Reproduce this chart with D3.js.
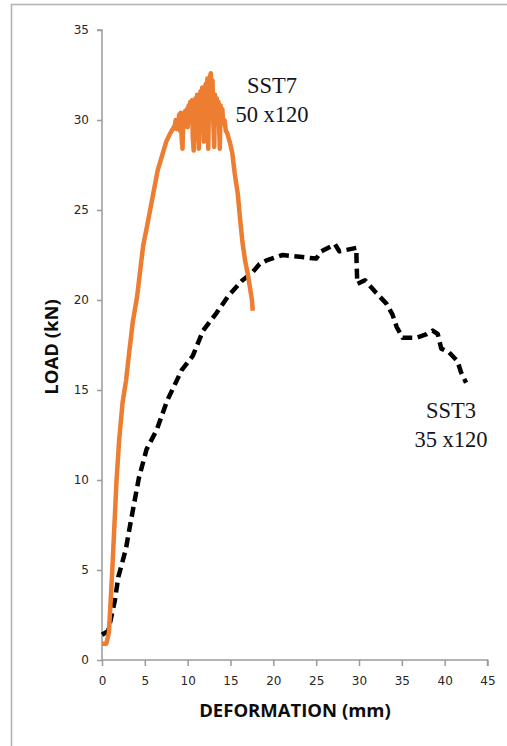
<!DOCTYPE html>
<html>
<head>
<meta charset="utf-8">
<script src="https://cdn.jsdelivr.net/npm/d3@7"></script>
<style>
  html, body { margin: 0; padding: 0; background: #fff; }
  svg { display: block; }
</style>
</head>
<body>
<svg id="chart" width="507" height="746"></svg>
<script>
// Load–deformation curves of two specimens
const xTicks = [0, 5, 10, 15, 20, 25, 30, 35, 40, 45];
const yTicks = [0, 5, 10, 15, 20, 25, 30, 35];

// SST7 (50 x120): deformation (mm) and load (kN)
const sst7Deformation = [0, 0.5, 0.8, 1.0, 1.2, 1.45, 1.7, 2.0, 2.4, 2.8, 3.2, 3.6, 4.1, 4.5, 4.8, 5.3, 5.7, 6.1, 6.5, 7.0, 7.5, 7.9, 8.5,
  8.6, 8.7, 8.8, 8.9, 9.0, 9.1, 9.2, 9.3, 9.4, 9.5, 9.6, 9.7, 9.8, 9.9, 10.0, 10.1, 10.2, 10.3, 10.4, 10.5, 10.6, 10.7, 10.8, 10.9,
  11.0, 11.1, 11.2, 11.3, 11.4, 11.5, 11.6, 11.7, 11.8, 11.9, 12.0, 12.1, 12.2, 12.3, 12.4, 12.5, 12.6, 12.7, 12.8, 12.9,
  13.0, 13.1, 13.2, 13.3, 13.4, 13.5, 13.6, 13.7, 13.75, 13.85, 13.95, 14.05, 14.15, 14.3, 14.45,
  14.6, 14.9, 15.2, 15.5, 15.85, 16.1, 16.4, 16.7, 17.0, 17.3, 17.5, 17.6];
const sst7Load = [0.9, 0.9, 1.5, 3.2, 5.0, 7.5, 10.0, 12.2, 14.3, 15.5, 17.2, 18.8, 20.2, 21.8, 23.0, 24.2, 25.2, 26.2, 27.2, 28.0, 28.8, 29.2, 29.7,
  30.0, 29.5, 30.0, 29.6, 30.3, 29.4, 30.4, 29.0, 28.4, 30.2, 29.6, 30.5, 29.8, 30.6, 29.6, 30.8, 29.9, 31.0, 30.0, 31.1, 29.0, 28.3, 30.4, 31.2,
  30.2, 31.4, 29.6, 28.4, 30.8, 31.6, 30.6, 31.8, 30.4, 28.8, 31.2, 32.0, 30.8, 32.3, 28.4, 31.2, 32.4, 32.6, 31.4, 32.2,
  29.8, 28.5, 31.4, 30.4, 31.2, 30.2, 31.0, 29.2, 28.4, 30.8, 30.0, 30.6, 29.8, 30.0, 29.4,
  29.3, 28.8, 28.2, 27.0, 25.9, 24.6, 23.2, 22.2, 21.5, 20.6, 20.0, 19.4];

// SST3 (35 x120): deformation (mm) and load (kN)
const sst3Deformation = [0, 0.7, 1.0, 1.5, 1.9, 2.3, 2.8, 3.4, 4.3, 5.2, 6.4, 7.6, 9.3, 10.6, 11.8, 13.4, 14.7, 16.4, 17.5, 18.4, 19.2, 21.1, 23.1, 25.0, 25.6, 27.2, 27.7, 28.7, 29.7, 29.7, 29.8, 30.7, 32.0, 33.2, 33.9, 34.4, 35.1, 36.7, 37.9, 38.6, 39.2, 39.6, 40.5, 41.5, 41.9, 42.5];
const sst3Load = [1.4, 1.6, 2.2, 3.3, 4.6, 5.3, 6.2, 7.8, 10.1, 11.7, 12.8, 14.4, 16.1, 16.9, 18.3, 19.3, 20.2, 21.1, 21.5, 22.0, 22.2, 22.5, 22.4, 22.3, 22.7, 23.1, 22.7, 22.8, 22.9, 22.4, 20.9, 21.1, 20.4, 19.8, 19.2, 18.5, 17.9, 17.9, 18.1, 18.3, 18.1, 17.3, 17.1, 16.6, 16.0, 15.4];

const svg = d3.select("#chart");

// outer frame
svg.append("rect")
  .attr("x", 11.5).attr("y", 4.5)
  .attr("width", 600).attr("height", 900)
  .attr("fill", "none")
  .attr("stroke", "#b4b4b4")
  .attr("stroke-width", 1.6);

const x = d3.scaleLinear().domain([0, 45]).range([102, 487.5]);
const y = d3.scaleLinear().domain([0, 35]).range([660, 30]);

const axisColor = "#9a9a9a";
const tickFont = "DejaVu Sans, sans-serif";

// x axis
const gx = svg.append("g")
  .attr("transform", `translate(0,${y(0)})`)
  .call(d3.axisBottom(x).tickValues(xTicks).tickSize(6).tickPadding(10).tickFormat(d3.format("d")));
// y axis
const gy = svg.append("g")
  .attr("transform", `translate(${x(0)},0)`)
  .call(d3.axisLeft(y).tickValues(yTicks).tickSize(5).tickPadding(8).tickFormat(d3.format("d")));

[gx, gy].forEach(g => {
  g.select(".domain").attr("stroke", axisColor).attr("stroke-width", 1.5);
  g.selectAll(".tick line").attr("stroke", axisColor).attr("stroke-width", 1.5);
  g.selectAll(".tick text")
    .attr("fill", "#262626")
    .style("font-family", tickFont)
    .style("font-size", "12px")
    .style("font-weight", 500);
});
gy.select(".domain").attr("d", `M-5,${y(35)}H0V${y(0)}`);
gx.select(".domain").attr("d", `M${x(0)},0H${x(45)}V6`);

// axis titles
const titleStyle = sel => sel
  .attr("text-anchor", "middle")
  .style("font-family", "Open Sans, sans-serif")
  .style("font-weight", 700)
  .style("font-size", "18.5px")
  .attr("fill", "#0d0d0d");

svg.append("text")
  .attr("x", 295).attr("y", 717)
  .call(titleStyle)
  .text("DEFORMATION (mm)");

svg.append("text")
  .attr("transform", "translate(58,347) rotate(-90)")
  .call(titleStyle)
  .text("LOAD (kN)");

const line = d3.line().x(d => x(d[0])).y(d => y(d[1]));

// SST3 dashed curve
svg.append("path")
  .datum(d3.zip(sst3Deformation, sst3Load))
  .attr("d", line)
  .attr("fill", "none")
  .attr("stroke", "#000")
  .attr("stroke-width", 4.5)
  .attr("stroke-dasharray", "10,5.5")
  .attr("stroke-linejoin", "round");

// SST7 solid curve
svg.append("path")
  .datum(d3.zip(sst7Deformation, sst7Load))
  .attr("d", line)
  .attr("fill", "none")
  .attr("stroke", "#ED7D31")
  .attr("stroke-width", 4.5)
  .attr("stroke-linejoin", "round");

// specimen labels
const labelFont = "Liberation Serif, Times New Roman, serif";
function label(cx, lines, baseY) {
  lines.forEach((t, i) => {
    svg.append("text")
      .attr("x", cx).attr("y", baseY + i * 29)
      .attr("text-anchor", "middle")
      .style("font-family", labelFont)
      .style("font-size", "22.5px")
      .attr("fill", "#141420")
      .text(t);
  });
}
label(272, ["SST7", "50 x120"], 93);
label(451, ["SST3", "35 x120"], 418);
</script>
</body>
</html>
